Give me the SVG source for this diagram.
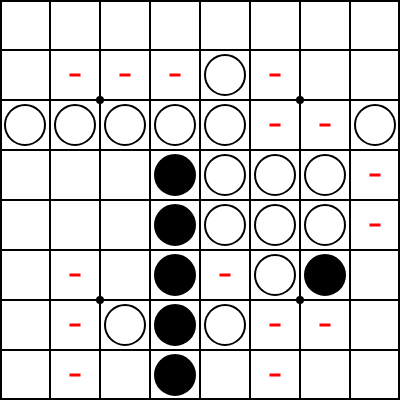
<svg xmlns="http://www.w3.org/2000/svg" width="400" height="400" viewBox="0 0 400 400">
<style>
.grid line{stroke:#000;stroke-width:2}
.w{fill:#fff;stroke:#000;stroke-width:2}
.b{fill:#000;stroke:#000;stroke-width:2}
.m{fill:#ff0000}
.star{fill:#000}
</style>
<defs>
<circle id="wp" class="w" r="20"/>
<circle id="bp" class="b" r="20"/>
<rect id="mk" class="m" x="-5.5" y="-1.5" width="11" height="3"/>
</defs>
<rect x="0" y="0" width="400" height="400" fill="#fff"/>
<g id="board" class="grid">
<line x1="50" y1="0" x2="50" y2="400"/><line x1="100" y1="0" x2="100" y2="400"/><line x1="150" y1="0" x2="150" y2="400"/><line x1="200" y1="0" x2="200" y2="400"/><line x1="250" y1="0" x2="250" y2="400"/><line x1="300" y1="0" x2="300" y2="400"/><line x1="350" y1="0" x2="350" y2="400"/>
<line x1="0" y1="50" x2="400" y2="50"/><line x1="0" y1="100" x2="400" y2="100"/><line x1="0" y1="150" x2="400" y2="150"/><line x1="0" y1="200" x2="400" y2="200"/><line x1="0" y1="250" x2="400" y2="250"/><line x1="0" y1="300" x2="400" y2="300"/><line x1="0" y1="350" x2="400" y2="350"/>
<rect x="1" y="1" width="398" height="398" fill="none" stroke="#000" stroke-width="2"/>
<circle class="star" cx="100" cy="100" r="4"/><circle class="star" cx="300" cy="100" r="4"/><circle class="star" cx="100" cy="300" r="4"/><circle class="star" cx="300" cy="300" r="4"/>
</g>
<g id="white">
<use href="#wp" x="225" y="75"/>
<use href="#wp" x="25" y="125"/><use href="#wp" x="75" y="125"/><use href="#wp" x="125" y="125"/><use href="#wp" x="175" y="125"/><use href="#wp" x="225" y="125"/><use href="#wp" x="375" y="125"/>
<use href="#wp" x="225" y="175"/><use href="#wp" x="275" y="175"/><use href="#wp" x="325" y="175"/>
<use href="#wp" x="225" y="225"/><use href="#wp" x="275" y="225"/><use href="#wp" x="325" y="225"/>
<use href="#wp" x="275" y="275"/>
<use href="#wp" x="125" y="325"/><use href="#wp" x="225" y="325"/>
</g>
<g id="black">
<use href="#bp" x="175" y="175"/><use href="#bp" x="175" y="225"/><use href="#bp" x="175" y="275"/><use href="#bp" x="325" y="275"/><use href="#bp" x="175" y="325"/><use href="#bp" x="175" y="375"/>
</g>
<g id="marks">
<use href="#mk" x="75" y="75"/><use href="#mk" x="125" y="75"/><use href="#mk" x="175" y="75"/><use href="#mk" x="275" y="75"/>
<use href="#mk" x="275" y="125"/><use href="#mk" x="325" y="125"/>
<use href="#mk" x="375" y="175"/><use href="#mk" x="375" y="225"/>
<use href="#mk" x="75" y="275"/><use href="#mk" x="225" y="275"/>
<use href="#mk" x="75" y="325"/><use href="#mk" x="275" y="325"/><use href="#mk" x="325" y="325"/>
<use href="#mk" x="75" y="375"/><use href="#mk" x="275" y="375"/>
</g>
</svg>
